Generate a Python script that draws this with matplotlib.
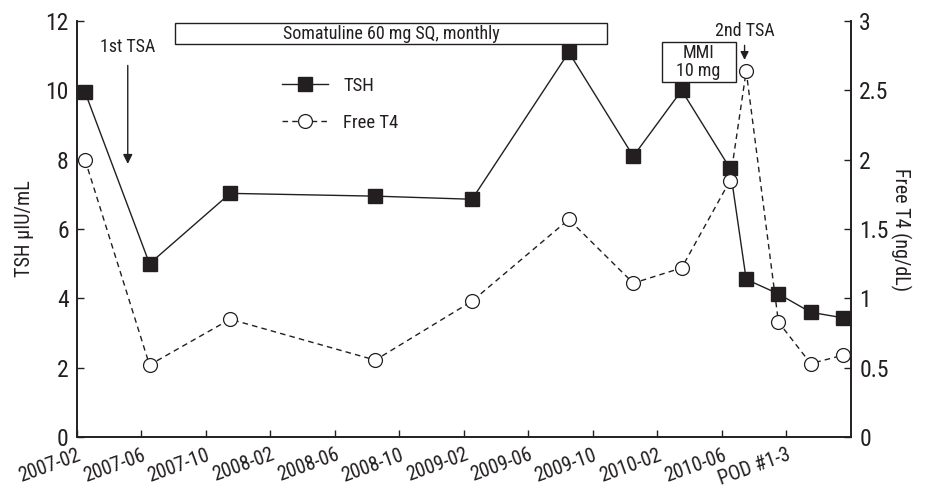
import matplotlib.pyplot as plt
from matplotlib import font_manager
from matplotlib.patches import Rectangle

# --- data (x = months since 2007-02) ---
months = [0.5, 4.5, 9.5, 18.5, 24.5, 30.5, 34.5, 37.5, 40.5, 41.5, 43.5, 45.5, 47.5]
tsh = [9.95, 5.0, 7.03, 6.95, 6.86, 11.1, 8.1, 10.0, 7.75, 4.55, 4.13, 3.6, 3.44]
free_t4 = [2.0, 0.52, 0.85, 0.555, 0.98, 1.57, 1.11, 1.22, 1.85, 2.64, 0.83, 0.53, 0.59]
tick_pos = [0, 4, 8, 12, 16, 20, 24, 28, 32, 36, 40, 44]
tick_labels = ['2007-02', '2007-06', '2007-10', '2008-02', '2008-06', '2008-10',
               '2009-02', '2009-06', '2009-10', '2010-02', '2010-06', 'POD #1-3']

# pick a narrow face if one is installed
installed = {f.name for f in font_manager.fontManager.ttflist}
narrow = [n for n in ['Liberation Sans Narrow', 'DejaVu Sans Condensed', 'Roboto Condensed',
                      'Open Sans Condensed', 'Noto Sans Condensed', 'Roboto'] if n in installed]
plt.rcParams['font.family'] = narrow[:1] + ['DejaVu Sans']
ink = '#231f20'

fig = plt.figure(figsize=(9.25, 4.9), dpi=100)
ax = fig.add_axes([0.0832, 0.108, 0.8368, 0.849])
ax2 = ax.twinx()

ax.plot(months, tsh, '-', color=ink, lw=1.0, marker='s', ms=10,
        mfc=ink, mec=ink, label='TSH', zorder=3)
ax2.plot(months, free_t4, '--', color=ink, lw=1.0, dashes=(4, 3), marker='o', ms=10,
         mfc='white', mec=ink, mew=0.9, label='Free T4', zorder=3)

ax.set_xlim(0, 48)
ax.set_ylim(0, 12)
ax2.set_ylim(0, 3)
ax.set_yticks([0, 2, 4, 6, 8, 10, 12])
ax2.set_yticks([0, 0.5, 1, 1.5, 2, 2.5, 3])
ax2.set_yticklabels(['0', '0.5', '1', '1.5', '2', '2.5', '3'])
ax.set_xticks(tick_pos)
ax.set_xticklabels(tick_labels, rotation=20, ha='right', rotation_mode='anchor')

for a in (ax, ax2):
    a.spines['top'].set_visible(False)
    for s in a.spines.values():
        s.set_color(ink)
        s.set_linewidth(1.2)
    a.tick_params(direction='in', length=5, width=1, colors=ink, labelsize=17, pad=6)
ax.tick_params(axis='x', labelsize=14.5, pad=6)

ax.set_ylabel('TSH μIU/mL', fontsize=14.5, color=ink, labelpad=8)
ax2.set_ylabel('Free T4 (ng/dL)', fontsize=14.5, color=ink, rotation=270, labelpad=16)

# annotations
ax.add_patch(Rectangle((6.1, 11.33), 26.8, 0.6, fill=False, ec=ink, lw=1, zorder=4))
ax.text(19.5, 11.63, 'Somatuline 60 mg SQ, monthly', ha='center', va='center',
        fontsize=13, color=ink)

ax.text(3.15, 11.25, '1st TSA', ha='center', va='center', fontsize=13, color=ink)
ax.annotate('', xy=(3.15, 7.8), xytext=(3.15, 10.8),
            arrowprops=dict(arrowstyle='-|>', color=ink, lw=1, mutation_scale=14))

ax.add_patch(Rectangle((36.25, 10.23), 4.6, 1.17, fill=False, ec=ink, lw=1, zorder=4))
ax.text(38.55, 10.81, 'MMI\n10 mg', ha='center', va='center', fontsize=13,
        color=ink, linespacing=1.0)

ax.text(41.4, 11.7, '2nd TSA', ha='center', va='center', fontsize=13, color=ink)
ax.annotate('', xy=(41.4, 10.8), xytext=(41.4, 11.38),
            arrowprops=dict(arrowstyle='-|>', color=ink, lw=1, mutation_scale=12))

h1, l1 = ax.get_legend_handles_labels()
h2, l2 = ax2.get_legend_handles_labels()
ax2.legend(h1 + h2, l1 + l2, loc='upper left', bbox_to_anchor=(0.265, 0.866),
           frameon=False, fontsize=13.5, handlelength=2.45, handletextpad=0.8,
           labelspacing=1.0, borderpad=0, borderaxespad=0, labelcolor=ink)

fig.savefig('out.png', dpi=100)
